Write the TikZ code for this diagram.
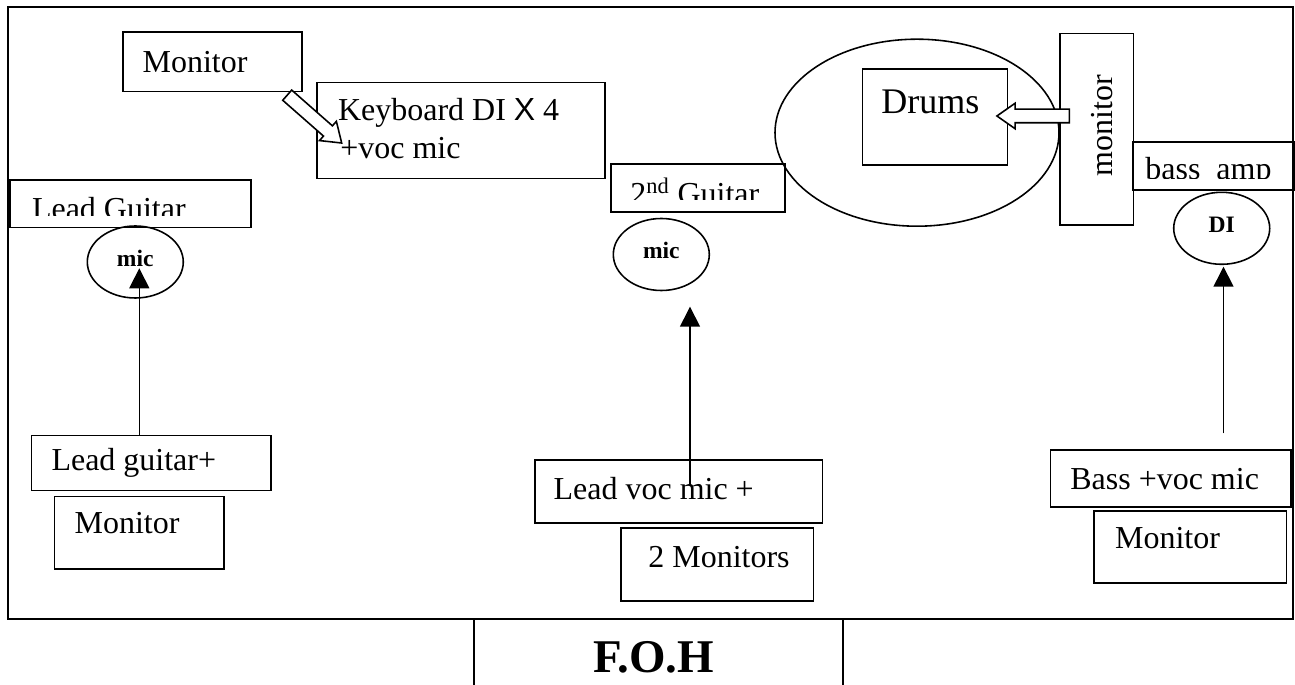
\documentclass[tikz,border=0pt]{standalone}
\usepackage{fontspec}
\setmainfont{Liberation Serif}
\newfontfamily\arialfont{Liberation Sans}
\usetikzlibrary{shapes.geometric,shapes.arrows,arrows.meta}
\tikzset{
  box/.style={draw,rectangle,anchor=north west,inner sep=0pt,line width=1pt},
  lbl/.style={anchor=base west,inner sep=0pt,font=\fontsize{18.2}{21}\selectfont},
  mic/.style={ellipse,draw,line width=0.9pt,minimum width=1.92cm,minimum height=1.44cm,inner sep=0pt,
    font=\bfseries\fontsize{13.4}{16}\selectfont,text height=9.4pt,text depth=4.8pt},
  harrow/.style={single arrow,draw,fill=white,line width=0.9pt,inner xsep=0pt,inner ysep=0.12cm,
    minimum height=1.45cm,single arrow head extend=0.12cm,single arrow tip angle=70}
}
\begin{document}
\begin{tikzpicture}
\useasboundingbox (0,0) rectangle (25.9,13.68);
\draw[line width=1.1pt] (0.166,1.30) rectangle (25.86,13.54);

\node(drumset) at (18.34,11.026)[ellipse,draw,line width=0.9pt,minimum width=5.68cm,minimum height=3.74cm]{};

\node(mon1) at (2.446,13.06)[box,minimum width=3.574cm,minimum height=1.194cm]{};
\node(kb)   at (6.32,12.046)[box,minimum width=5.766cm,minimum height=1.92cm]{};
\node(drums) at (17.234,12.314)[box,minimum width=2.9cm,minimum height=1.92cm]{};
\node(monv) at (21.186,13.026)[box,minimum width=1.468cm,minimum height=3.832cm]{};
\node(bamp) at (22.646,10.86)[box,minimum width=3.22cm,minimum height=0.966cm]{};
\node(lg)   at (0.186,10.094)[box,minimum width=4.814cm,minimum height=0.948cm]{};
\node(g2)   at (12.2,10.414)[box,minimum width=3.486cm,minimum height=0.954cm]{};

\node(lgv)  at (0.612,4.986)[box,minimum width=4.788cm,minimum height=1.10cm]{};
\node(mon2) at (1.074,3.766)[box,minimum width=3.386cm,minimum height=1.452cm]{};
\node(lv)   at (10.686,4.494)[box,minimum width=5.746cm,minimum height=1.26cm]{};
\node(mon3) at (12.4,3.134)[box,minimum width=3.85cm,minimum height=1.454cm]{};
\node(bv)   at (20.99,4.694)[box,minimum width=4.806cm,minimum height=1.134cm]{};
\node(mon4) at (21.866,3.48)[box,minimum width=3.848cm,minimum height=1.446cm]{};
\node(foh)  at (9.46,1.326)[box,minimum width=7.386cm,minimum height=1.6cm]{};

\node(tmon1) at (2.846,12.226)[lbl]{Monitor};
\node(tkb1)  at (6.754,11.26)[lbl]{Keyboard DI {\arialfont X} 4};
\node(tkb2)  at (6.80,10.514)[lbl]{+voc mic};
\node(tdrums) at (17.62,11.413)[lbl,font=\fontsize{20.5}{24}\selectfont]{Drums};
\node(tmonv) at (22.25,11.164)[lbl,anchor=base,rotate=90]{monitor};
\node(tlgv)  at (1.024,4.266)[lbl]{Lead guitar+};
\node(tmon2) at (1.486,3.02)[lbl]{Monitor};
\node(tlv)   at (11.066,3.694)[lbl]{Lead voc mic +};
\node(tmon3) at (12.96,2.334)[lbl]{2 Monitors};
\node(tbv)   at (21.4,3.894)[lbl]{Bass +voc mic};
\node(tmon4) at (22.296,2.714)[lbl]{Monitor};
\node(tfoh)  at (11.86,0.226)[lbl,font=\bfseries\fontsize{26.7}{30}\selectfont]{F.O.H};

\begin{scope}
\clip (0.186,10.094) rectangle (5.0,9.366);
\node(tlg) at (0.634,9.296)[lbl]{Lead Guitar};
\end{scope}
\begin{scope}
\clip (12.2,10.414) rectangle (15.686,9.694);
\node(tg2) at (12.6,9.596)[lbl]{2\textsuperscript{nd} Guitar};
\end{scope}
\begin{scope}
\clip (22.646,10.86) rectangle (25.866,10.10);
\node(tbamp) at (22.9,10.08)[lbl]{bass~~amp};
\end{scope}

\node(mic1) at (2.706,8.44)[mic]{mic};
\node(mic2) at (13.226,8.59)[mic]{mic};
\node(di)   at (24.434,9.114)[mic]{DI};

\node(kbarrow) at (6.216,11.362)[harrow,rotate=-41.3]{};
\node(drarrow) at (20.76,11.36)[harrow,rotate=180]{};

\coordinate(lgbot) at (2.786,4.98);
\coordinate(lgtip) at (2.786,8.314);
\coordinate(lvbot) at (13.8,3.98);
\coordinate(lvtip) at (13.8,7.546);
\coordinate(bvbot) at (24.47,5.014);
\coordinate(bvtip) at (24.47,8.346);

\path [-{Triangle[length=0.4cm,width=0.4cm]},line width=0.8pt]
  (lgbot)  edge  (lgtip)
  (lvbot)  edge  (lvtip)
  (bvbot)  edge  (bvtip);

\end{tikzpicture}
\end{document}
